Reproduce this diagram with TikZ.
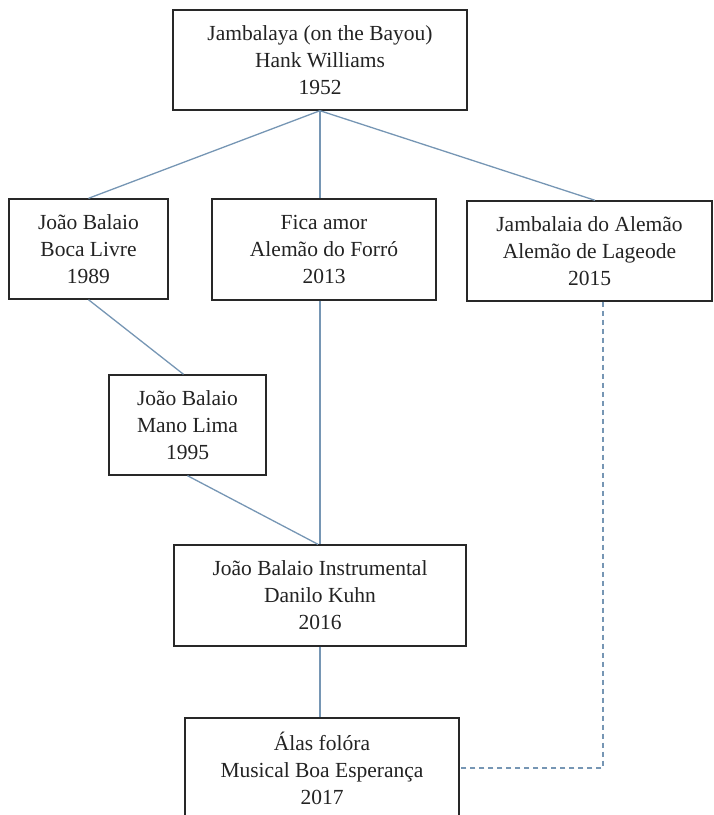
\documentclass[tikz,border=0pt]{standalone}
\usepackage{fontspec}
\setmainfont{Liberation Serif}
\definecolor{conn}{RGB}{118,150,180}
\definecolor{boxline}{RGB}{40,40,40}
\definecolor{txt}{RGB}{35,35,35}
\tikzset{
  songbox/.style={draw=boxline, line width=1.4pt, fill=white, rectangle, align=center,
    inner sep=0pt, text=txt, font=\fontsize{21.5}{27}\selectfont},
  link/.style={draw=conn, line width=1.3pt},
  dlink/.style={draw=conn, line width=1.3pt, dash pattern=on 5pt off 4pt}
}
\begin{document}
\begin{tikzpicture}[x=1pt,y=-1pt]
\useasboundingbox (0,0) rectangle (714,815);
\clip (0,0) rectangle (714,815);
\node[songbox, minimum width=294pt, minimum height=100pt] (top) at (320,60)
  {Jambalaya (on the Bayou)\\Hank Williams\\1952};
\node[songbox, minimum width=159pt, minimum height=100pt] (b1) at (88.5,249)
  {João Balaio\\Boca Livre\\1989};
\node[songbox, minimum width=224pt, minimum height=101pt] (b2) at (324,249.5)
  {Fica amor\\Alemão do Forró\\2013};
\node[songbox, minimum width=245pt, minimum height=100pt] (b3) at (589.5,251)
  {Jambalaia do Alemão\\Alemão de Lageode\\2015};
\node[songbox, minimum width=157pt, minimum height=100pt] (b4) at (187.5,425)
  {João Balaio\\Mano Lima\\1995};
\node[songbox, minimum width=292pt, minimum height=101pt] (b5) at (320,595.5)
  {João Balaio Instrumental\\Danilo Kuhn\\2016};
\node[songbox, minimum width=274pt, minimum height=100pt] (b6) at (322,768)
  {Álas folóra\\Musical Boa Esperança\\2017};
\draw[link] (top.south) -- (b1.north);
\draw[link] (top.south) -- (top.south |- b2.north);
\draw[link] (top.south) -- ([xshift=5.5pt]b3.north);
\draw[link] (b1.south) -- ([xshift=-4pt]b4.north);
\draw[link] (b4.south) -- ([xshift=-2pt]b5.north);
\draw[link] (top.south |- b2.south) -- (b5.north);
\draw[link] (b5.south) -- (b5.south |- b6.north);
\draw[dlink] ([xshift=13.5pt]b3.south) |- (b6.east);
\end{tikzpicture}
\end{document}
